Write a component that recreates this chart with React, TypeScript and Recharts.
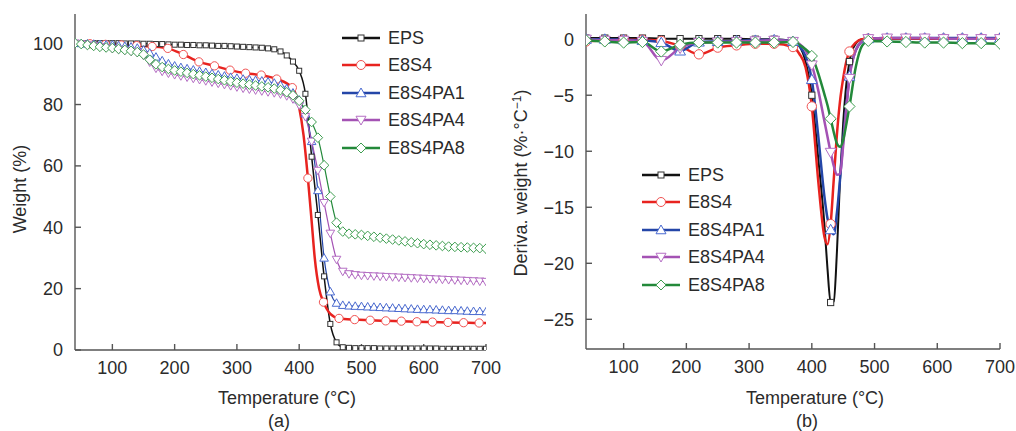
import React from 'react';
import { LineChart, Line, XAxis, YAxis } from 'recharts';

// ---- TGA (a) ----
const TGA_TEMPS = [
  40, 50, 60, 70, 80, 90, 100, 110, 120, 130, 140, 150, 160, 170, 180, 190, 200,
  210, 220, 230, 240, 250, 260, 270, 280, 290, 300, 310, 320, 330, 340, 350, 360,
  370, 380, 390, 400, 410, 420, 430, 440, 450, 460, 470, 480, 490, 500, 510, 520,
  530, 540, 550, 560, 570, 580, 590, 600, 610, 620, 630, 640, 650, 660, 670, 680,
  690, 700,
];
const TGA_EPS = [
  100, 100, 100, 100, 100, 100, 100, 100, 99.9,
  99.9, 99.9, 99.8, 99.8, 99.7, 99.7, 99.6, 99.5,
  99.5, 99.4, 99.4, 99.3, 99.3, 99.2, 99.1, 99.1, 99.0, 98.9,
  98.8, 98.7, 98.6, 98.5, 98.3, 98.0, 97.3, 96.0, 94.0, 91.0,
  83.5, 63, 44, 24, 8.5, 2.5, 0.9, 0.7, 0.6, 0.6,
  0.6, 0.6, 0.5, 0.5, 0.5, 0.5, 0.5, 0.5, 0.5, 0.5,
  0.5, 0.5, 0.4, 0.4, 0.4, 0.4, 0.4, 0.4, 0.4, 0.4,
];
const TGA_PA1 = [
  100, 99.9, 99.8, 99.7, 99.6, 99.5, 99.4, 99.2, 99.0,
  98.8, 98.4, 97.8, 96.8, 95.5, 94.3, 93.3, 92.6,
  92.1, 91.7, 91.3, 90.9, 90.5, 90.1, 89.7, 89.3, 88.9, 88.6,
  88.3, 88.1, 87.9, 87.7, 87.4, 87.0, 86.3, 85.2, 83.8, 81.5,
  77, 68, 52, 30, 19, 15.3, 14.6, 14.4, 14.3, 14.2,
  14.1, 14.0, 13.9, 13.8, 13.7, 13.6, 13.5, 13.4, 13.3, 13.2,
  13.2, 13.1, 13.0, 12.9, 12.9, 12.8, 12.7, 12.6, 12.6, 12.5,
];
const TGA_PA4 = [
  100, 99.7, 99.4, 99.1, 98.8, 98.5, 98.2, 97.9, 97.6,
  97.3, 96.9, 96.0, 93.8, 91.8, 90.8, 90.2, 89.7,
  89.3, 88.9, 88.5, 88.1, 87.7, 87.3, 86.9, 86.5, 86.1, 85.7,
  85.3, 85.0, 84.7, 84.4, 84.1, 83.8, 83.4, 82.8, 81.8, 79.8,
  76, 68, 58.5, 48, 38, 29.5, 25.6, 24.8, 24.5, 24.3,
  24.2, 24.1, 24.0, 23.9, 23.8, 23.7, 23.6, 23.5, 23.4, 23.3,
  23.2, 23.1, 23.0, 22.9, 22.8, 22.7, 22.6, 22.5, 22.4, 22.3,
];
const TGA_PA8 = [
  100, 99.7, 99.4, 99.1, 98.8, 98.6, 98.4, 98.1, 97.8,
  97.5, 97.1, 96.3, 94.6, 93.1, 92.2, 91.6, 91.1,
  90.7, 90.3, 89.9, 89.5, 89.1, 88.7, 88.3, 87.9, 87.5, 87.1,
  86.8, 86.5, 86.2, 85.9, 85.6, 85.2, 84.7, 84.0, 83.0, 81.2,
  78.3, 74.3, 69.2, 60.2, 50, 41.5, 38.6, 37.9, 37.7, 37.5,
  37.2, 36.9, 36.6, 36.3, 36.0, 35.7, 35.4, 35.1, 34.8, 34.5,
  34.3, 34.1, 33.9, 33.7, 33.6, 33.5, 33.4, 33.3, 33.2, 33.0,
];
const TGA_E8S4_TEMPS = [
  40, 64, 89, 114, 139, 164, 189, 214, 239, 264, 289, 314, 339, 364, 389,
  400, 407, 414, 420, 425, 432, 439, 450, 464,
  489, 514, 539, 564, 589, 614, 639, 664, 689, 700,
];
const TGA_E8S4 = [
  100, 99.8, 99.6, 99.4, 99.2, 98.9, 98.3, 96.3, 93.9, 92.6, 91.2, 90.2, 89.6, 88.3, 85.5,
  79, 70, 56, 42, 30, 20, 15.6, 11.8, 10.3,
  9.9, 9.7, 9.5, 9.4, 9.2, 9.1, 9.0, 8.9, 8.8, 8.8,
];

// ---- DTG (b) ----
const DTG_TEMPS = [
  40, 70, 100, 130, 160, 190, 220, 250, 280, 310, 340, 370,
  380, 390, 400, 410, 420, 425, 430, 435, 440, 445, 450, 455, 460, 470, 480, 490,
  520, 550, 580, 610, 640, 670, 700,
];
const DTG_EPS = [
  0.1, 0.1, 0.1, 0.1, 0.05, 0.05, 0.05, 0.05, 0.05, 0.0, 0.0, -0.2,
  -0.6, -2.0, -5.0, -10.5, -16.5, -20.5, -23.5, -23.4, -19, -12.5, -7.5, -4, -2, -0.4, 0, 0.05,
  0.05, 0.05, 0.05, 0.05, 0.05, 0.05, 0.05,
];
const DTG_E8S4 = [
  -0.2, -0.1, -0.05, -0.05, -0.15, -0.6, -1.35, -0.75, -0.55, -0.4, -0.4, -0.7,
  -1.3, -2.5, -6.0, -12.5, -17.6, -18.3, -16.5, -12.5, -8.5, -5.5, -3.5, -2.0, -1.1, -0.3, 0, 0.05,
  0.05, 0.05, 0.05, 0.05, 0.05, 0.05, 0.05,
];
const DTG_PA1 = [
  0.0, 0.0, -0.05, -0.1, -0.3, -1.05, -0.25, -0.2, -0.15, -0.1, -0.05, -0.2,
  -0.6, -1.5, -3.6, -8.5, -14, -16, -17.0, -17.4, -15.5, -12.5, -9, -6, -3.3, -1.0, -0.2, 0.05,
  0.1, 0.1, 0.1, 0.1, 0.1, 0.1, 0.1,
];
const DTG_PA4 = [
  0.0, -0.1, -0.1, -0.2, -1.9, -0.8, -0.3, -0.25, -0.2, -0.15, -0.1, -0.2,
  -0.4, -1.0, -2.3, -4.5, -7.3, -8.7, -10.1, -11.3, -12.1, -12.0, -9.5, -6.2, -3.5, -1.0, -0.2, 0.05,
  0.1, 0.1, 0.1, 0.05, 0.05, 0.05, 0.05,
];
const DTG_PA8 = [
  -0.1, -0.2, -0.3, -0.25, -1.1, -0.5, -0.3, -0.3, -0.3, -0.3, -0.3, -0.25,
  -0.5, -0.9, -1.5, -3.0, -4.9, -5.9, -7.1, -8.3, -9.3, -9.6, -9.0, -7.6, -6.0, -2.5, -0.6, -0.15,
  -0.2, -0.25, -0.3, -0.3, -0.35, -0.35, -0.4,
];

const X_TICKS = [100, 200, 300, 400, 500, 600, 700];
const TGA_TICKS = [0, 20, 40, 60, 80, 100];
const DTG_TICKS = [0, -5, -10, -15, -20, -25];
const NAMES = ['EPS', 'E8S4', 'E8S4PA1', 'E8S4PA4', 'E8S4PA8'];

const FONT = 'Arial, "Liberation Sans", Helvetica, sans-serif';
const AXIS = '#555';
const TEXT = '#2b2b2b';

type Shape = 'square' | 'circle' | 'up' | 'down' | 'diamond';

const STYLE: { line: string; mark: string; shape: Shape }[] = [
  { line: '#111111', mark: '#333333', shape: 'square' },
  { line: '#e8231f', mark: '#f05252', shape: 'circle' },
  { line: '#2446a8', mark: '#4a6ad0', shape: 'up' },
  { line: '#a452b4', mark: '#b56fc4', shape: 'down' },
  { line: '#23893a', mark: '#3e9e50', shape: 'diamond' },
];

const toRows = (temps: number[], vals: number[]) => temps.map((t, i) => ({ t, v: vals[i] }));

const Marker = ({ shape, cx, cy, color, s }: { shape: Shape; cx: number; cy: number; color: string; s: number }) => {
  const common = { fill: '#fff', stroke: color, strokeWidth: 1 };
  switch (shape) {
    case 'square':
      return <rect x={cx - s * 0.6} y={cy - s * 0.6} width={s * 1.2} height={s * 1.2} {...common} />;
    case 'circle':
      return <circle cx={cx} cy={cy} r={s * 0.9} {...common} />;
    case 'up':
      return <polygon points={`${cx},${cy - s} ${cx + s},${cy + s * 0.75} ${cx - s},${cy + s * 0.75}`} {...common} />;
    case 'down':
      return <polygon points={`${cx},${cy + s} ${cx + s},${cy - s * 0.75} ${cx - s},${cy - s * 0.75}`} {...common} />;
    default:
      return <polygon points={`${cx},${cy - s} ${cx + s},${cy} ${cx},${cy + s} ${cx - s},${cy}`} {...common} />;
  }
};

// only some points carry a marker; the rest just shape the curve
const makeDot = (idx: number, size: number, show: (t: number) => boolean) => (props: any) => {
  const { cx, cy, payload, index } = props;
  if (cx == null || cy == null || !show(payload.t)) return <g key={`d-${idx}-${index}`} />;
  return (
    <g key={`d-${idx}-${index}`}>
      <Marker shape={STYLE[idx].shape} cx={cx} cy={cy} color={STYLE[idx].mark} s={size} />
    </g>
  );
};

const tickStyle = { fill: TEXT, fontSize: 18, fontFamily: FONT };
const axisLine = { stroke: AXIS, strokeWidth: 1.4 };
const minusFmt = (v: number) => (v < 0 ? `\u2212${-v}` : `${v}`);

const TGA_SERIES = [
  { rows: toRows(TGA_TEMPS, TGA_EPS), width: 1.5, show: () => true },
  { rows: toRows(TGA_E8S4_TEMPS, TGA_E8S4), width: 2.5, show: (t: number) => (t - 39) % 25 === 0 },
  { rows: toRows(TGA_TEMPS, TGA_PA1), width: 1.2, show: () => true },
  { rows: toRows(TGA_TEMPS, TGA_PA4), width: 1.2, show: () => true },
  { rows: toRows(TGA_TEMPS, TGA_PA8), width: 1.2, show: () => true },
];
const TGA_SIZES = [4.2, 4.6, 4.3, 4.3, 4.8];

const DTG_SERIES = [DTG_EPS, DTG_E8S4, DTG_PA1, DTG_PA4, DTG_PA8].map((vals) => toRows(DTG_TEMPS, vals));
const DTG_SIZES = [5.2, 5.2, 5.4, 5.4, 5.6];
const dtgMark = (t: number) => (t - 40) % 30 === 0;

const Legend = ({ left, top, gap }: { left: number; top: number; gap: number }) => (
  <div style={{ position: 'absolute', left, top }}>
    {NAMES.map((n, i) => (
      <div
        key={n}
        style={{ position: 'absolute', left: 0, top: i * gap - 11, height: 22, display: 'flex', alignItems: 'center', whiteSpace: 'nowrap' }}
      >
        <svg width={40} height={22} style={{ overflow: 'visible' }}>
          <line x1={1} x2={39} y1={11} y2={11} stroke={STYLE[i].line} strokeWidth={2.5} />
          <Marker shape={STYLE[i].shape} cx={20} cy={11} color={STYLE[i].mark} s={5} />
        </svg>
        <span style={{ marginLeft: 7, fontSize: 18, fontFamily: FONT, color: TEXT, lineHeight: '22px' }}>{n}</span>
      </div>
    ))}
  </div>
);

const label = (extra: React.CSSProperties): React.CSSProperties => ({
  position: 'absolute',
  fontSize: 18,
  fontFamily: FONT,
  color: TEXT,
  whiteSpace: 'nowrap',
  lineHeight: '20px',
  ...extra,
});

const App = () => {
  return (
    <div style={{ position: 'absolute', left: 0, top: 0, width: 1016, height: 431, background: '#fff', overflow: 'hidden' }}>
      <div style={{ position: 'absolute', left: 0, top: 0 }}>
        <LineChart width={508} height={431} margin={{ top: 14, right: 22, bottom: 51, left: 0 }}>
          <XAxis
            dataKey="t"
            type="number"
            domain={[40, 700]}
            ticks={X_TICKS}
            allowDataOverflow
            height={30}
            tickSize={-6}
            tickMargin={17}
            axisLine={axisLine}
            tickLine={axisLine}
            tick={tickStyle}
          />
          <XAxis xAxisId="top" orientation="top" type="number" domain={[40, 700]} height={0} tick={false} tickLine={false} axisLine={axisLine} />
          <YAxis
            type="number"
            domain={[0, 109.5]}
            ticks={TGA_TICKS}
            allowDataOverflow
            width={75}
            tickSize={-6}
            tickMargin={18}
            axisLine={axisLine}
            tickLine={axisLine}
            tick={tickStyle}
          />
          <YAxis yAxisId="right" orientation="right" domain={[0, 109.5]} width={0} tick={false} tickLine={false} axisLine={axisLine} />
          {TGA_SERIES.map((s, i) => (
            <Line
              key={NAMES[i]}
              data={s.rows}
              dataKey="v"
              type="monotone"
              stroke={STYLE[i].line}
              strokeWidth={s.width}
              dot={makeDot(i, TGA_SIZES[i], s.show)}
              activeDot={false}
              isAnimationActive={false}
            />
          ))}
        </LineChart>
      </div>

      <div style={{ position: 'absolute', left: 508, top: 0 }}>
        <LineChart width={508} height={431} margin={{ top: 14, right: 16, bottom: 52, left: 0 }}>
          <XAxis
            dataKey="t"
            type="number"
            domain={[40, 700]}
            ticks={X_TICKS}
            allowDataOverflow
            height={30}
            tickSize={-6}
            tickMargin={17}
            axisLine={axisLine}
            tickLine={axisLine}
            tick={tickStyle}
          />
          <XAxis xAxisId="top" orientation="top" type="number" domain={[40, 700]} height={0} tick={false} tickLine={false} axisLine={axisLine} />
          <YAxis
            type="number"
            domain={[-27.65, 2.25]}
            ticks={DTG_TICKS}
            allowDataOverflow
            width={78}
            tickSize={-6}
            tickMargin={18}
            axisLine={axisLine}
            tickLine={axisLine}
            tick={tickStyle}
            tickFormatter={minusFmt}
          />
          <YAxis yAxisId="right" orientation="right" domain={[-27.65, 2.25]} width={0} tick={false} tickLine={false} axisLine={axisLine} />
          {DTG_SERIES.map((rows, i) => (
            <Line
              key={NAMES[i]}
              data={rows}
              dataKey="v"
              type="monotone"
              stroke={STYLE[i].line}
              strokeWidth={i === 0 ? 2 : 2.5}
              dot={makeDot(i, DTG_SIZES[i], dtgMark)}
              activeDot={false}
              isAnimationActive={false}
            />
          ))}
        </LineChart>
      </div>

      <Legend left={341} top={38} gap={27.4} />
      <Legend left={641} top={175} gap={27.4} />

      <div style={label({ left: 287, top: 388, transform: 'translateX(-50%)' })}>Temperature (°C)</div>
      <div style={label({ left: 279, top: 412, lineHeight: '18px', transform: 'translateX(-50%)' })}>(a)</div>
      <div style={label({ left: 815, top: 388, transform: 'translateX(-50%)' })}>Temperature (°C)</div>
      <div style={label({ left: 807, top: 412, lineHeight: '18px', transform: 'translateX(-50%)' })}>(b)</div>

      <div style={label({ left: 20, top: 189, transform: 'translate(-50%, -50%) rotate(-90deg)' })}>Weight (%)</div>
      <div style={label({ left: 521, top: 183, transform: 'translate(-50%, -50%) rotate(-90deg)' })}>
        Deriva. weight (%·°C<sup style={{ fontSize: 12, verticalAlign: 'top', lineHeight: '12px' }}>−1</sup>)
      </div>
    </div>
  );
};

export default App;
